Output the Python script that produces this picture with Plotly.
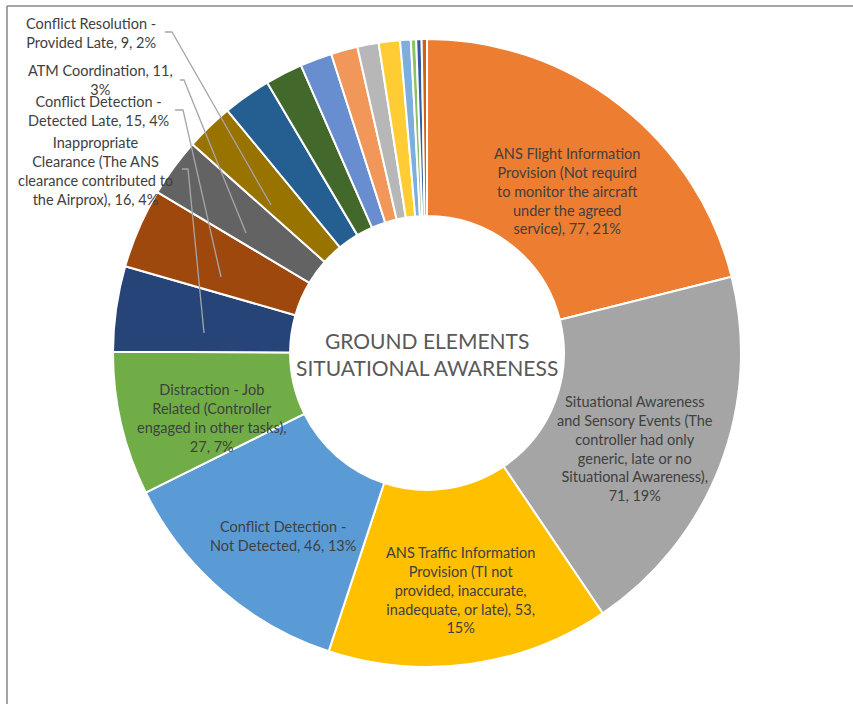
import plotly.graph_objects as go

# Contributory factors, clockwise from 12 o'clock
categories = [
    "ANS Flight Information Provision (Not requird to monitor the aircraft under the agreed service)",
    "Situational Awareness and Sensory Events (The controller had only generic, late or no Situational Awareness)",
    "ANS Traffic Information Provision (TI not provided, inaccurate, inadequate, or late)",
    "Conflict Detection - Not Detected",
    "Distraction - Job Related (Controller engaged in other tasks)",
    "Inappropriate Clearance (The ANS clearance contributed to the Airprox)",
    "Conflict Detection - Detected Late",
    "ATM Coordination",
    "Conflict Resolution - Provided Late",
    None, None, None, None, None, None, None, None, None, None,
]
counts = [77, 71, 53, 46, 27, 16, 15, 11, 9, 9, 7, 6, 5, 4, 4, 2, 1, 1, 1]

slice_colors = [
    "#ED7D31", "#A5A5A5", "#FFC000", "#5B9BD5", "#70AD47", "#264478",
    "#9E480E", "#636363", "#997300", "#255E91", "#43682B", "#698ED0",
    "#F1975A", "#B7B7B7", "#FFCD33", "#7CAFDD", "#8CC168", "#335AA1",
    "#D26012",
]

# Wrapped data-label layouts ({v} = count, {p} = percent)
label_fmt = [
    "ANS Flight Information<br>Provision (Not requird<br>to monitor the aircraft<br>under the agreed<br>service), {v}, {p}%",
    "Situational Awareness<br>and Sensory Events (The<br>controller had only<br>generic, late or no<br>Situational Awareness),<br>{v}, {p}%",
    "ANS Traffic Information<br>Provision (TI not<br>provided, inaccurate,<br>inadequate, or late), {v},<br>{p}%",
    "Conflict Detection -<br>Not Detected, {v}, {p}%",
    "Distraction - Job<br>Related (Controller<br>engaged in other tasks),<br>{v}, {p}%",
    "Inappropriate<br>Clearance (The ANS<br>clearance contributed to<br>the Airprox), {v}, {p}%",
    "Conflict Detection -<br>Detected Late, {v}, {p}%",
    "ATM Coordination, {v},<br>{p}%",
    "Conflict Resolution -<br>Provided Late, {v}, {p}%",
]

center_title = "GROUND ELEMENTS<br>SITUATIONAL AWARENESS"

W, H = 853, 704
FONT = "Lato"
TXT = "#404040"


def px(x):
    return x / W


def py(y):
    return 1 - y / H


total = sum(counts)
cx, cy, r = 427, 353, 314

fig = go.Figure(
    go.Pie(
        values=counts,
        sort=False,
        direction="clockwise",
        rotation=0,
        hole=0.436,
        marker=dict(colors=slice_colors, line=dict(color="white", width=2)),
        textinfo="none",
        hoverinfo="skip",
        showlegend=False,
        domain=dict(x=[px(cx - r), px(cx + r)], y=[py(cy + r), py(cy - r)]),
    )
)

# label anchor positions (pixel centres) and optional leader lines
label_pos = [
    (567, 191), (635, 448), (460, 590), (283, 536), (212, 418),
    (95, 171), (98, 111), (100, 80), (91, 33),
]
leaders = {
    5: [(182, 169), (188, 169), (204, 333)],
    6: [(175, 110), (183, 110), (221, 277)],
    7: [(180, 80), (184, 80), (246, 233)],
    8: [(165, 32), (172, 32), (271, 205)],
}

annotations = []
shapes = []
for i, fmt in enumerate(label_fmt):
    v = counts[i]
    p = round(100 * v / total)
    x, y = label_pos[i]
    annotations.append(dict(
        x=px(x), y=py(y), xref="paper", yref="paper",
        text=fmt.format(v=v, p=p), showarrow=False,
        xanchor="center", yanchor="middle", align="center",
        font=dict(family=FONT, size=14.5, color=TXT),
    ))
    if i in leaders:
        pts = leaders[i]
        path = "M " + " L ".join(f"{px(a)} {py(b)}" for a, b in pts)
        shapes.append(dict(type="path", xref="paper", yref="paper", path=path,
                           line=dict(color="#A6A6A6", width=1.3), layer="above"))

annotations.append(dict(
    x=px(cx), y=py(354), xref="paper", yref="paper", text=center_title,
    showarrow=False, xanchor="center", yanchor="middle", align="center",
    font=dict(family=FONT, size=21, color="#595959"),
))

# chart-area frame (left and top edges)
shapes.append(dict(type="line", xref="paper", yref="paper", x0=px(7), x1=px(7),
                   y0=py(6), y1=py(720), line=dict(color="#868686", width=1.5)))
shapes.append(dict(type="line", xref="paper", yref="paper", x0=px(7), x1=px(870),
                   y0=py(6), y1=py(6), line=dict(color="#868686", width=1.5)))

fig.update_layout(
    width=W, height=H,
    margin=dict(l=0, r=0, t=0, b=0),
    paper_bgcolor="white", plot_bgcolor="white",
    annotations=annotations, shapes=shapes,
)

fig.write_html("out.html")
